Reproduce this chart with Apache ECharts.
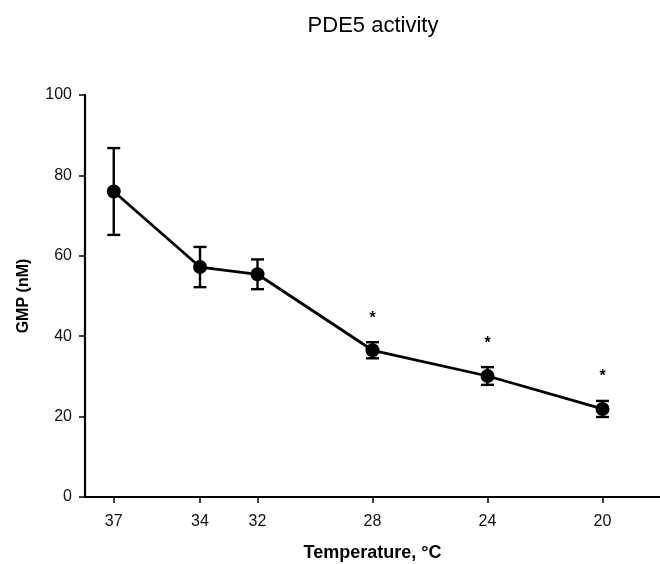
<!DOCTYPE html>
<html lang="en">
<head>
	<meta charset="UTF-8">
	<title>PDE5 activity</title>
	<script src="https://cdn.jsdelivr.net/npm/echarts@6/dist/echarts.min.js"></script>
	<style>
		html, body { margin: 0; padding: 0; background: #fff; }
		#main { width: 660px; height: 564px; }
	</style>
</head>
<body>
	<div id="main"></div>
	<script>
		// data
		var temps = [37, 34, 32, 28, 24, 20];
		var gmp = [76, 57.2, 55.4, 36.5, 30.1, 21.9];
		var errs = [10.8, 5.0, 3.7, 2.0, 2.2, 2.0];
		var signif = [false, false, false, true, true, true];
		var xTicks = [37, 34, 32, 28, 24, 20];

		var lineData = [];
		var barData = [];
		for (var i = 0; i < temps.length; i++) {
			lineData.push([temps[i], gmp[i]]);
			barData.push([temps[i], gmp[i] - errs[i], gmp[i] + errs[i], signif[i] ? 1 : 0]);
		}

		function renderErrorBar(params, api) {
			var x = api.value(0);
			var lo = api.coord([x, api.value(1)]);
			var hi = api.coord([x, api.value(2)]);
			var half = 6.5;
			var style = { stroke: '#000', lineWidth: 2.4 };
			var children = [
				{ type: 'line', shape: { x1: hi[0], y1: hi[1], x2: lo[0], y2: lo[1] }, style: style },
				{ type: 'line', shape: { x1: hi[0] - half, y1: hi[1], x2: hi[0] + half, y2: hi[1] }, style: style },
				{ type: 'line', shape: { x1: lo[0] - half, y1: lo[1], x2: lo[0] + half, y2: lo[1] }, style: style }
			];
			if (api.value(3)) {
				// significance star above the bar
				children.push({
					type: 'text',
					style: {
						text: '*', x: hi[0], y: hi[1] - 24,
						fill: '#000', font: 'bold 16px Liberation Sans, Arial, sans-serif',
						align: 'center', verticalAlign: 'middle'
					}
				});
			}
			return { type: 'group', children: children };
		}

		var fontFam = 'Liberation Sans, Arial, Helvetica, sans-serif';

		var chart = echarts.init(document.getElementById('main'), null, { renderer: 'canvas' });
		chart.setOption({
			backgroundColor: '#fff',
			animation: false,
			graphic: [{
				type: 'text',
				x: 373, y: 26,
				style: {
					text: 'PDE5 activity',
					fill: '#000',
					font: '22px ' + fontFam,
					align: 'center',
					verticalAlign: 'middle'
				}
			}],
			grid: { left: 85, right: 0, top: 95, bottom: 67, containLabel: false, outerBoundsMode: 'none' },
			xAxis: {
				type: 'value',
				inverse: true,
				min: 18,
				max: 38,
				name: 'Temperature, °C',
				nameLocation: 'middle',
				nameGap: 47,
				nameTextStyle: { fontFamily: fontFam, fontWeight: 'bold', fontSize: 18, color: '#000' },
				axisLine: { show: true, onZero: false, lineStyle: { color: '#000', width: 2.2 } },
				axisTick: { show: true, length: 6, customValues: xTicks, lineStyle: { color: '#000', width: 1.5 } },
				axisLabel: { customValues: xTicks, margin: 17, fontFamily: fontFam, fontSize: 16, color: '#111' },
				splitLine: { show: false }
			},
			yAxis: {
				type: 'value',
				min: 0,
				max: 100,
				interval: 20,
				name: 'GMP (nM)',
				nameLocation: 'middle',
				nameGap: 53,
				nameTextStyle: { fontFamily: fontFam, fontWeight: 'bold', fontSize: 16, color: '#000' },
				axisLine: { show: true, lineStyle: { color: '#000', width: 2.2 } },
				axisTick: { show: true, length: 6, lineStyle: { color: '#000', width: 1.5 } },
				axisLabel: { margin: 13, fontFamily: fontFam, fontSize: 16, color: '#111' },
				splitLine: { show: false }
			},
			series: [
				{
					type: 'custom',
					renderItem: renderErrorBar,
					data: barData,
					encode: { x: 0, y: [1, 2] },
					z: 2
				},
				{
					type: 'line',
					data: lineData,
					symbol: 'circle',
					symbolSize: 14,
					lineStyle: { color: '#000', width: 2.8 },
					itemStyle: { color: '#000' },
					z: 3
				}
			]
		});
	</script>
</body>
</html>
